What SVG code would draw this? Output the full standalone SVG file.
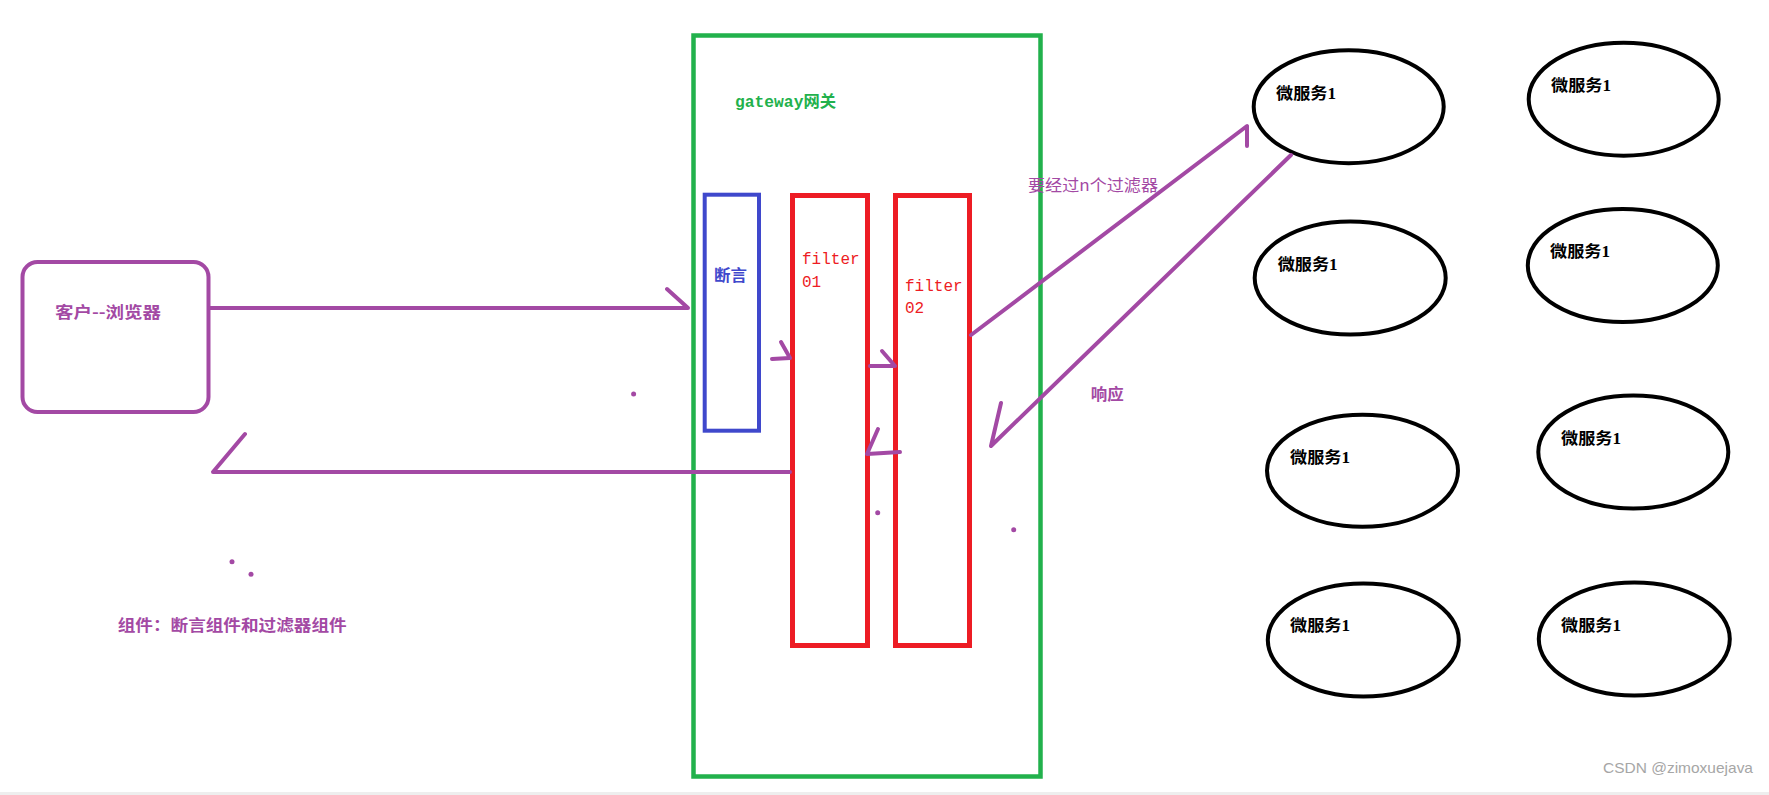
<svg xmlns="http://www.w3.org/2000/svg" width="1769" height="795" viewBox="0 0 1769 795">
<style>
.p{fill:none;stroke:#A349A4;stroke-width:4;stroke-linecap:round;stroke-linejoin:round}
.ell{fill:none;stroke:#000;stroke-width:4}
.dot{fill:#A349A4}
.cjk{font-family:"Noto Sans CJK SC",sans-serif}
.pt{fill:#A349A4;font-size:16px;font-weight:bold}
.ms{font-family:"Liberation Serif","Noto Sans CJK SC",serif;font-size:16px;font-weight:bold;fill:#000}
.mono{font-family:"Liberation Mono","Noto Sans CJK SC",monospace;font-size:16px}
</style>
<rect width="1769" height="795" fill="#fff"/>
<rect x="0" y="792" width="1769" height="3" fill="#eeeeee"/>

<g id="client">
<rect x="22.5" y="262" width="186" height="150" rx="15" fill="none" stroke="#A349A4" stroke-width="4"/>
<text x="55" y="318" class="cjk pt" textLength="106" lengthAdjust="spacingAndGlyphs">客户--浏览器</text>
</g>

<g id="gateway">
<rect x="693.5" y="35.5" width="347" height="741" fill="none" stroke="#22B14C" stroke-width="4.5"/>
<text x="735" y="107" class="mono" fill="#22B14C" font-weight="bold" textLength="101" lengthAdjust="spacingAndGlyphs">gateway网关</text>
</g>

<g id="predicate">
<rect x="704.7" y="194.7" width="54.3" height="236" fill="none" stroke="#3F48CC" stroke-width="4"/>
<text x="714" y="281" class="cjk" fill="#3F48CC" font-size="16" font-weight="bold" textLength="33" lengthAdjust="spacingAndGlyphs">断言</text>
</g>

<g id="filter01">
<rect x="792.5" y="195.5" width="75" height="450" fill="none" stroke="#ED1C24" stroke-width="5"/>
<text x="802" y="264" class="mono" fill="#ED1C24">filter</text>
<text x="802" y="287" class="mono" fill="#ED1C24">01</text>
</g>

<g id="filter02">
<rect x="895.5" y="195.5" width="74" height="450" fill="none" stroke="#ED1C24" stroke-width="5"/>
<text x="905" y="291" class="mono" fill="#ED1C24">filter</text>
<text x="905" y="313" class="mono" fill="#ED1C24">02</text>
</g>

<g id="ms1"><ellipse cx="1348.7" cy="106.7" rx="95" ry="56.5" class="ell"/><text x="1276" y="99" class="ms" textLength="60" lengthAdjust="spacingAndGlyphs">微服务1</text></g>
<g id="ms2"><ellipse cx="1623.7" cy="99.2" rx="95" ry="56.5" class="ell"/><text x="1551" y="91" class="ms" textLength="60" lengthAdjust="spacingAndGlyphs">微服务1</text></g>
<g id="ms3"><ellipse cx="1350.2" cy="278" rx="95.5" ry="56.5" class="ell"/><text x="1277.7" y="269.5" class="ms" textLength="60" lengthAdjust="spacingAndGlyphs">微服务1</text></g>
<g id="ms4"><ellipse cx="1622.8" cy="265.5" rx="95" ry="56.5" class="ell"/><text x="1550" y="257" class="ms" textLength="60" lengthAdjust="spacingAndGlyphs">微服务1</text></g>
<g id="ms5"><ellipse cx="1362.5" cy="470.8" rx="95.5" ry="56" class="ell"/><text x="1290" y="463" class="ms" textLength="60" lengthAdjust="spacingAndGlyphs">微服务1</text></g>
<g id="ms6"><ellipse cx="1633.3" cy="452" rx="95" ry="56.5" class="ell"/><text x="1561" y="444" class="ms" textLength="60" lengthAdjust="spacingAndGlyphs">微服务1</text></g>
<g id="ms7"><ellipse cx="1363.3" cy="640" rx="95.5" ry="56.5" class="ell"/><text x="1290" y="631" class="ms" textLength="60" lengthAdjust="spacingAndGlyphs">微服务1</text></g>
<g id="ms8"><ellipse cx="1634.3" cy="639" rx="95.5" ry="56.5" class="ell"/><text x="1561" y="630.5" class="ms" textLength="60" lengthAdjust="spacingAndGlyphs">微服务1</text></g>

<g id="connectors">
<polyline class="p" points="209,308 688,308 667,289"/>
<polyline class="p" points="790,472 213,472 245,434"/>
<polyline class="p" points="772,359 790,358 781,342"/>
<polyline class="p" points="870,366 895,366 882,351"/>
<polyline class="p" points="900,452 867,454 878,429"/>
<polyline class="p" points="971,335 1247,126 1247,146"/>
<polyline class="p" points="1291,155 991,446 1001,403"/>
</g>

<g id="dots">
<circle cx="633.6" cy="394" r="2.5" class="dot"/>
<circle cx="877.7" cy="512.7" r="2.5" class="dot"/>
<circle cx="1013.7" cy="529.7" r="2.5" class="dot"/>
<circle cx="232" cy="561.7" r="2.5" class="dot"/>
<circle cx="251" cy="574.3" r="2.5" class="dot"/>
</g>

<g id="labels">
<text x="1028" y="191" class="cjk" fill="#A349A4" font-size="16" textLength="130" lengthAdjust="spacingAndGlyphs">要经过n个过滤器</text>
<text x="1090.7" y="400" class="cjk pt" textLength="33" lengthAdjust="spacingAndGlyphs">响应</text>
<text x="117.7" y="631" class="cjk pt" textLength="229" lengthAdjust="spacingAndGlyphs">组件：断言组件和过滤器组件</text>
<text x="1603" y="773" font-family="Liberation Sans,sans-serif" font-size="15" fill="#a6a6a6" textLength="150" lengthAdjust="spacingAndGlyphs">CSDN @zimoxuejava</text>
</g>
</svg>
